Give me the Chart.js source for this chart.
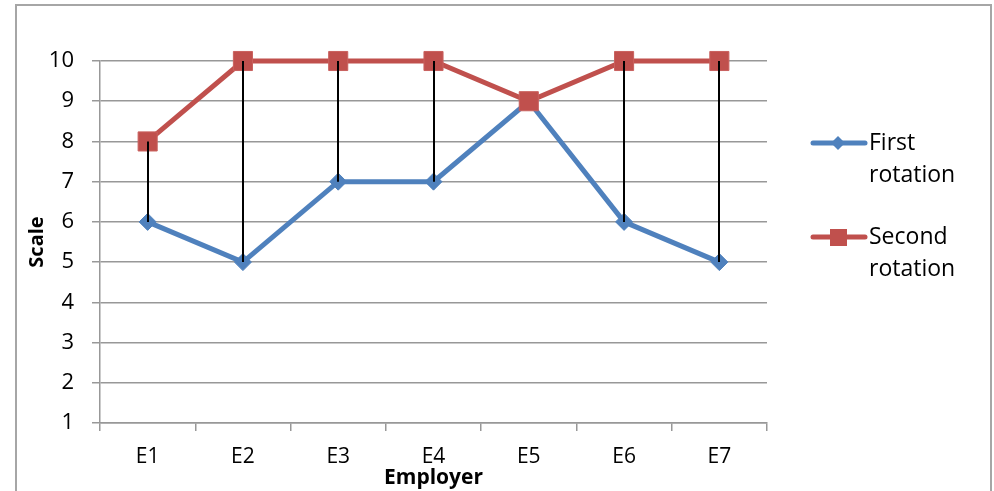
<!DOCTYPE html>
<html>
<head>
<meta charset="utf-8">
<script src="https://cdn.jsdelivr.net/npm/chart.js@4/dist/chart.umd.min.js"></script>
<style>
  html, body { margin: 0; padding: 0; background: #fff; }
  #wrap { width: 994px; height: 491px; position: relative; }
</style>
</head>
<body>
<div id="wrap"><canvas id="c" width="994" height="491"></canvas></div>
<script>
// Ratings given by each employer across two rotations
const employers = ['E1', 'E2', 'E3', 'E4', 'E5', 'E6', 'E7'];
const firstRotation = [6, 5, 7, 7, 9, 6, 5];
const secondRotation = [8, 10, 10, 10, 9, 10, 10];
const scaleTicks = [1, 2, 3, 4, 5, 6, 7, 8, 9, 10];
const seriesNames = [['First', 'rotation'], ['Second', 'rotation']];

const FONT = "'Open Sans', 'DejaVu Sans', sans-serif";
const BLUE = '#4f81bd';
const RED = '#c0504d';
const GRID = '#989898';

// Outer frame around the whole chart
const framePlugin = {
  id: 'frame',
  beforeDraw(chart) {
    const ctx = chart.ctx;
    ctx.save();
    ctx.fillStyle = '#fff';
    ctx.fillRect(0, 0, chart.width, chart.height);
    ctx.strokeStyle = '#a6a6a6';
    ctx.lineWidth = 2;
    ctx.strokeRect(16, 5, 975, 520);
    ctx.restore();
  }
};

// Vertical high-low connectors between the two series at each category
const hiLoPlugin = {
  id: 'hiLo',
  afterDatasetsDraw(chart) {
    const ctx = chart.ctx;
    const x = chart.scales.x, y = chart.scales.y;
    ctx.save();
    ctx.strokeStyle = '#000';
    ctx.lineWidth = 2;
    employers.forEach((e, i) => {
      const a = firstRotation[i], b = secondRotation[i];
      if (a === b) return;
      const px = Math.round(x.getPixelForValue(i));
      ctx.beginPath();
      ctx.moveTo(px, y.getPixelForValue(Math.max(a, b)));
      ctx.lineTo(px, y.getPixelForValue(Math.min(a, b)));
      ctx.stroke();
    });
    ctx.restore();
  }
};

// Legend on the right with two-line labels
const sideLegend = {
  id: 'sideLegend',
  afterDraw(chart) {
    const ctx = chart.ctx;
    const rows = [143, 237];
    ctx.save();
    chart.data.datasets.forEach((ds, i) => {
      const cy = rows[i];
      ctx.strokeStyle = ds.borderColor;
      ctx.lineWidth = 5;
      ctx.lineCap = 'round';
      ctx.beginPath();
      ctx.moveTo(813, cy);
      ctx.lineTo(865, cy);
      ctx.stroke();
      ctx.fillStyle = ds.pointBackgroundColor;
      ctx.beginPath();
      if (ds.pointStyle === 'rectRot') {
        const r = 7;
        ctx.moveTo(838 - r, cy); ctx.lineTo(838, cy - r);
        ctx.lineTo(838 + r, cy); ctx.lineTo(838, cy + r);
        ctx.closePath();
      } else {
        ctx.rect(830, cy - 8, 17, 17);
      }
      ctx.fill();
      ctx.fillStyle = '#000';
      ctx.font = '23px ' + FONT;
      ctx.textAlign = 'left';
      ctx.textBaseline = 'middle';
      seriesNames[i].forEach((line, k) => {
        ctx.fillText(line, 869, cy + k * 32);
      });
    });
    ctx.restore();
  }
};

new Chart(document.getElementById('c'), {
  type: 'line',
  data: {
    labels: employers,
    datasets: [
      {
        label: seriesNames[0].join(' '),
        data: firstRotation,
        order: 2,
        borderColor: BLUE,
        backgroundColor: BLUE,
        pointBackgroundColor: BLUE,
        pointBorderColor: BLUE,
        borderWidth: 5,
        pointStyle: 'rectRot',
        pointRadius: 8.5,
        pointHoverRadius: 8.5,
        pointBorderWidth: 1,
        tension: 0,
        clip: false
      },
      {
        label: seriesNames[1].join(' '),
        data: secondRotation,
        order: 1,
        borderColor: RED,
        backgroundColor: RED,
        pointBackgroundColor: RED,
        pointBorderColor: '#c9615e',
        borderWidth: 5,
        pointStyle: 'rect',
        pointRadius: 13.5,
        pointHoverRadius: 13.5,
        pointBorderWidth: 1,
        tension: 0,
        clip: false
      }
    ]
  },
  options: {
    responsive: false,
    animation: false,
    events: [],
    layout: { padding: { left: 16, right: 227, top: 61, bottom: 0 } },
    plugins: {
      legend: { display: false },
      tooltip: { enabled: false }
    },
    scales: {
      x: {
        offset: true,
        grid: {
          offset: true,
          drawOnChartArea: false,
          drawTicks: true,
          tickLength: 8,
          color: GRID,
          lineWidth: 1.5
        },
        border: { color: GRID, width: 1.5 },
        ticks: { color: '#000', font: { family: FONT, size: 21 }, padding: 13, maxRotation: 0 },
        title: {
          display: true,
          text: 'Employer',
          color: '#000',
          font: { family: FONT, size: 21, weight: 'bold' },
          padding: { top: 0, bottom: 0 }
        },
        afterFit(scale) { scale.height = 68; }
      },
      y: {
        min: 1,
        max: 10,
        afterBuildTicks(scale) { scale.ticks = scaleTicks.map(v => ({ value: v })); },
        grid: { color: GRID, lineWidth: 1.5, tickLength: 8 },
        border: { color: GRID, width: 1.5 },
        ticks: { color: '#000', font: { family: FONT, size: 22 }, padding: 18 },
        title: {
          display: true,
          text: 'Scale',
          color: '#000',
          font: { family: FONT, size: 20, weight: 'bold' },
          padding: { top: 9, bottom: 0 }
        },
        afterFit(scale) { scale.width = 84; }
      }
    }
  },
  plugins: [framePlugin, hiLoPlugin, sideLegend]
});
</script>
</body>
</html>
